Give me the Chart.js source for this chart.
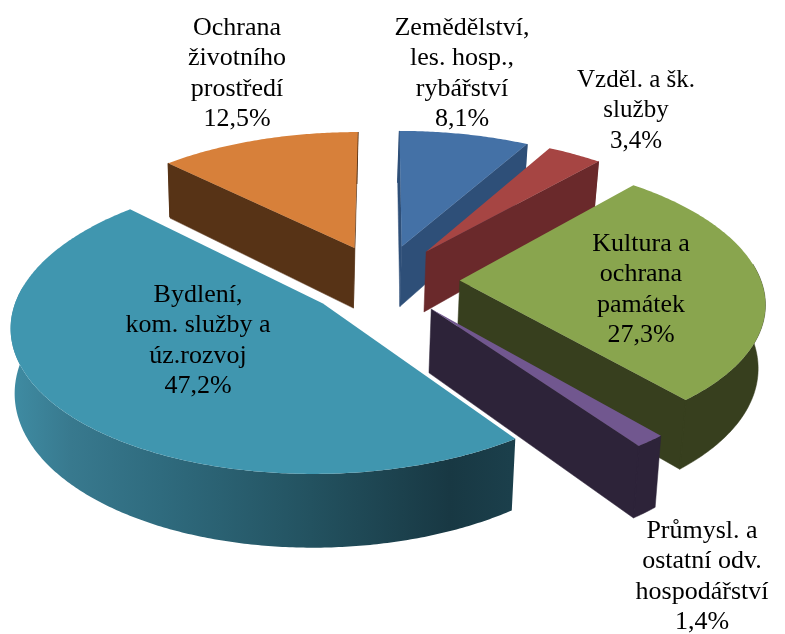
<!DOCTYPE html>
<html><head><meta charset="utf-8">
<style>html,body{margin:0;padding:0;background:#fff}#w{width:785px;height:634px;position:relative}</style>
<script src="https://cdn.jsdelivr.net/npm/chart.js@4"></script>
</head><body><div id="w"><canvas id="c" width="785" height="634"></canvas></div>
<script>
const categories = ["Zemědělství, les. hosp., rybářství","Vzděl. a šk. služby","Kultura a ochrana památek","Průmysl. a ostatní odv. hospodářství","Bydlení, kom. služby a úz.rozvoj","Ochrana životního prostředí"];
const values = [8.1,3.4,27.3,1.4,47.2,12.5];
const labelLines = [["Zemědělství,","les. hosp.,","rybářství"],["Vzděl. a šk.","služby"],["Kultura a","ochrana","památek"],["Průmysl. a","ostatní odv.","hospodářství"],["Bydlení,","kom. služby a","úz.rozvoj"],["Ochrana","životního","prostředí"]];
const labelAnchors = [[462,28],[636,80],[641,244],[702,531],[198,295],[237,28]];
const labelSizes = [26,25,26,26,26,26];
const topColors = ["#4471a6","#a64543","#89a54e","#71578f","#4096af","#d7803a"];
const wallColors = ["#2e4f78","#6a292b","#373f1e","#2d2339","#1d4350","#573316"];
const paintOrder = [5,0,1,2,4,3];
const view = {cx:383,cy:280,R:301,a:140,b:-0.137,depth:62,bottomScale:0.985,bottomAnchor:280,explode:0.255};
const wallStops = [[0,"#3f8ca3"],[0.12,"#38798e"],[0.3,"#2f6b7e"],[0.6,"#235260"],[0.88,"#183843"],[1,"#1b3f4b"]];

function project(u,v,bottom){
  const w = 1+view.b*v;
  const x = view.cx+view.R*u/w;
  const y = view.cy+view.a*v/w;
  if(!bottom) return [x,y];
  return [view.bottomAnchor+(x-view.bottomAnchor)*view.bottomScale, y+view.depth/w];
}
function trace(ctx,pts){
  pts.forEach((p,i)=>i?ctx.lineTo(p[0],p[1]):ctx.moveTo(p[0],p[1]));
  ctx.closePath();
}
function poly(ctx,pts,fill){
  ctx.beginPath();trace(ctx,pts);
  ctx.fillStyle=fill;ctx.fill();
}
function faceShows(tip,end,inner){
  const dx=end[0]-tip[0],dy=end[1]-tip[1];
  const side=dx*(inner[1]-tip[1])-dy*(inner[0]-tip[0]);
  return side*dx<0;
}
const pie3d = {
  id:'pie3d',
  beforeDatasetDraw(){return false;},
  afterDatasetsDraw(chart){
    const ctx=chart.ctx, arcs=chart.getDatasetMeta(0).data;
    ctx.save();
    paintOrder.forEach(i=>{
      const el=arcs[i];
      const s=el.startAngle+Math.PI/2, e=el.endAngle+Math.PI/2, mid=(s+e)/2;
      const ou=Math.sin(mid)*view.explode, ov=-Math.cos(mid)*view.explode;
      const n=Math.max(4,Math.ceil((e-s)/0.01));
      const rim=[];
      for(let k=0;k<=n;k++){const t=s+(e-s)*k/n;rim.push([ou+Math.sin(t),ov-Math.cos(t),t]);}
      const topRim=rim.map(p=>project(p[0],p[1],false));
      const botRim=rim.map(p=>project(p[0],p[1],true));
      const tipT=project(ou,ov,false), tipB=project(ou,ov,true);
      const inner=topRim[Math.floor(n/2)];
      const faces=[];
      if(faceShows(tipT,topRim[0],inner)) faces.push([tipT,topRim[0],botRim[0],tipB]);
      if(faceShows(tipT,topRim[n],inner)) faces.push([tipT,topRim[n],botRim[n],tipB]);
      let a=-1,b=-1;
      rim.forEach((p,k)=>{ if(-Math.cos(p[2])>-0.12){ if(a<0)a=k; b=k; } });
      const outer = a>=0&&b>a ? topRim.slice(a,b+1).concat(botRim.slice(a,b+1).reverse()) : null;
      if(i===4){
        faces.forEach(f=>poly(ctx,f,wallColors[i]));
        if(outer){
          const g=ctx.createLinearGradient(11,0,510,0);
          wallStops.forEach(st=>g.addColorStop(st[0],st[1]));
          poly(ctx,outer,g);
        }
      } else {
        ctx.fillStyle=wallColors[i];ctx.strokeStyle=wallColors[i];ctx.lineWidth=0.5;
        faces.forEach(f=>{ctx.beginPath();trace(ctx,f);ctx.fill();ctx.stroke();});
        if(outer){ctx.beginPath();trace(ctx,outer);ctx.fill();ctx.stroke();}
        ctx.lineWidth=1.4;
        faces.forEach(f=>{ctx.beginPath();ctx.moveTo(f[1][0],f[1][1]);ctx.lineTo(f[2][0],f[2][1]-1);ctx.stroke();});
      }
      poly(ctx,[tipT].concat(topRim),topColors[i]);
    });
    ctx.fillStyle="#000";ctx.textAlign="center";ctx.textBaseline="middle";
    values.forEach((val,i)=>{
      ctx.font=labelSizes[i]+'px "Liberation Serif"';
      const lines=labelLines[i].concat([val.toFixed(1).replace('.',',')+'%']);
      lines.forEach((t,j)=>ctx.fillText(t,labelAnchors[i][0],labelAnchors[i][1]+j*30.5));
    });
    ctx.restore();
  }
};
new Chart(document.getElementById('c'),{
  type:'pie',
  data:{labels:categories,datasets:[{data:values,backgroundColor:topColors,borderWidth:0}]},
  options:{responsive:false,animation:false,events:[],plugins:{legend:{display:false},tooltip:{enabled:false}}},
  plugins:[pie3d]
});
</script></body></html>
